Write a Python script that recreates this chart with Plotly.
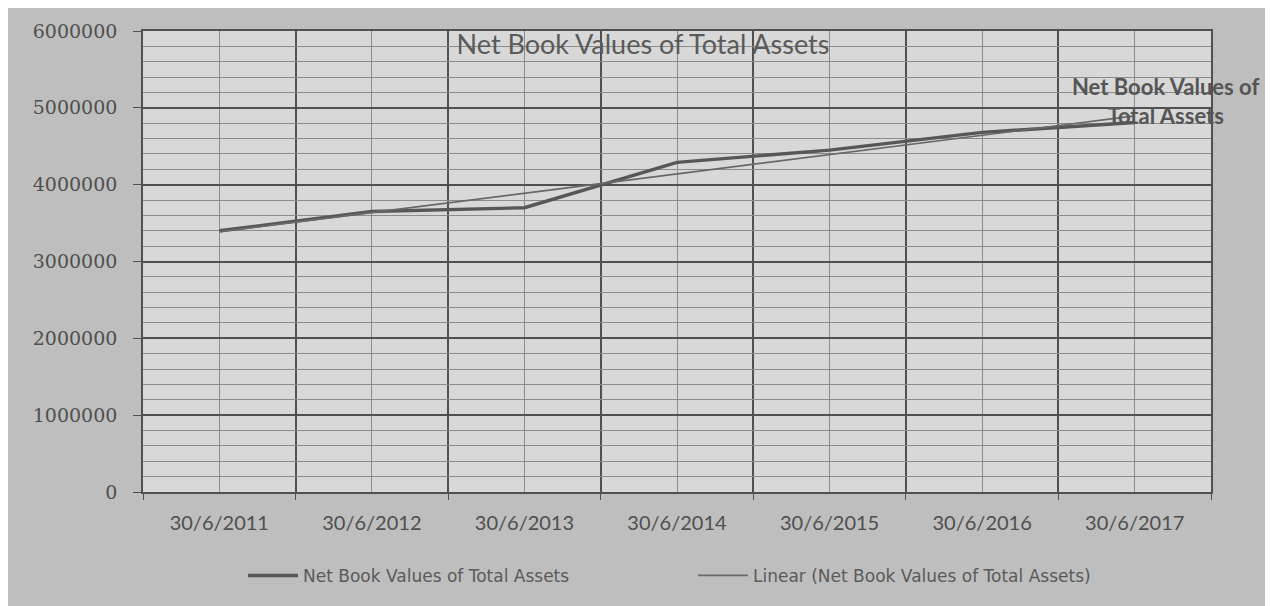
import numpy as np
import plotly.graph_objects as go

# ---- data ----
dates = ["30/6/2011", "30/6/2012", "30/6/2013", "30/6/2014", "30/6/2015", "30/6/2016", "30/6/2017"]
net_book_values = [3400000, 3650000, 3700000, 4290000, 4450000, 4680000, 4810000]
y_ticks = [0, 1000000, 2000000, 3000000, 4000000, 5000000, 6000000]
series_name = "Net Book Values of Total Assets"
trend_name = "Linear (Net Book Values of Total Assets)"

x_idx = list(range(len(dates)))
# Excel-style linear trendline computed from the series
slope, intercept = np.polyfit(x_idx, net_book_values, 1)
trend_values = [slope * i + intercept for i in x_idx]

OFF = 8  # page body margin
W, H = 1273 - OFF, 606 - OFF
L, R, T, B = 143 - OFF, 62, 25 - OFF, 114
pw, ph = W - L - R, H - T - B

def px_x(p):  # page pixel -> paper fraction
    return (p - OFF - L) / pw

def px_y(p):
    return (H - B - (p - OFF)) / ph

font = "Lato, 'Open Sans', sans-serif"
dark = "#4f4f4f"

fig = go.Figure()
fig.add_trace(go.Scatter(
    x=x_idx, y=net_book_values, mode="lines", name=series_name,
    line=dict(color="#575757", width=3.4),
))
fig.add_trace(go.Scatter(
    x=x_idx, y=trend_values, mode="lines", name=trend_name,
    line=dict(color="#686868", width=1.7),
))

fig.update_layout(
    width=W, height=H,
    margin=dict(l=L, r=R, t=T, b=B),
    paper_bgcolor="#bebebe",
    plot_bgcolor="#d8d8d8",
    font=dict(family=font, color=dark),
    title=dict(text="Net Book Values of Total Assets", x=px_x(643), xref="paper",
               xanchor="center", y=1 - (45 - OFF) / H, yanchor="middle",
               font=dict(size=27, color="#5a5a5a", family=font)),
    showlegend=True,
    legend=dict(orientation="h", x=px_x(693), xanchor="center", y=px_y(577), yanchor="middle",
                bgcolor="rgba(0,0,0,0)", font=dict(size=17, color="#5a5a5a",
                                                   family="'DejaVu Sans', sans-serif"),
                entrywidth=385, itemwidth=50),
)

fig.update_xaxes(
    range=[-0.5, len(dates) - 0.5],
    tickvals=x_idx, ticktext=dates,
    showgrid=True, gridcolor="#8c8c8c", gridwidth=1,
    minor=dict(tickvals=[i - 0.5 for i in range(len(dates) + 1)], showgrid=True,
               gridcolor="#505050", gridwidth=1.6, ticks="outside", ticklen=6,
               tickcolor="#505050"),
    ticks="", ticklabelstandoff=12,
    tickfont=dict(size=20, color=dark, family=font),
    showline=True, linecolor="#505050", linewidth=1.6, mirror=True,
    zeroline=False,
)
fig.update_yaxes(
    range=[0, 6000000],
    tickvals=y_ticks, ticktext=[str(v) for v in y_ticks],
    showgrid=True, gridcolor="#505050", gridwidth=1.6,
    minor=dict(dtick=200000, showgrid=True, gridcolor="#8c8c8c", gridwidth=1),
    ticks="outside", ticklen=8, tickcolor="#505050", ticklabelstandoff=12,
    tickfont=dict(size=19, color=dark, family="'DejaVu Serif', serif"),
    showline=True, linecolor="#505050", linewidth=1.6, mirror=True,
    zeroline=False,
)

fig.add_annotation(
    x=x_idx[-1], y=net_book_values[-1], xref="x", yref="y",
    text="Net Book Values of<br>Total Assets", showarrow=False,
    xanchor="center", yanchor="middle", xshift=31, yshift=21, align="center",
    font=dict(size=22, color="#555555", family=font, weight="bold"),
)

fig.write_html("out.html")
